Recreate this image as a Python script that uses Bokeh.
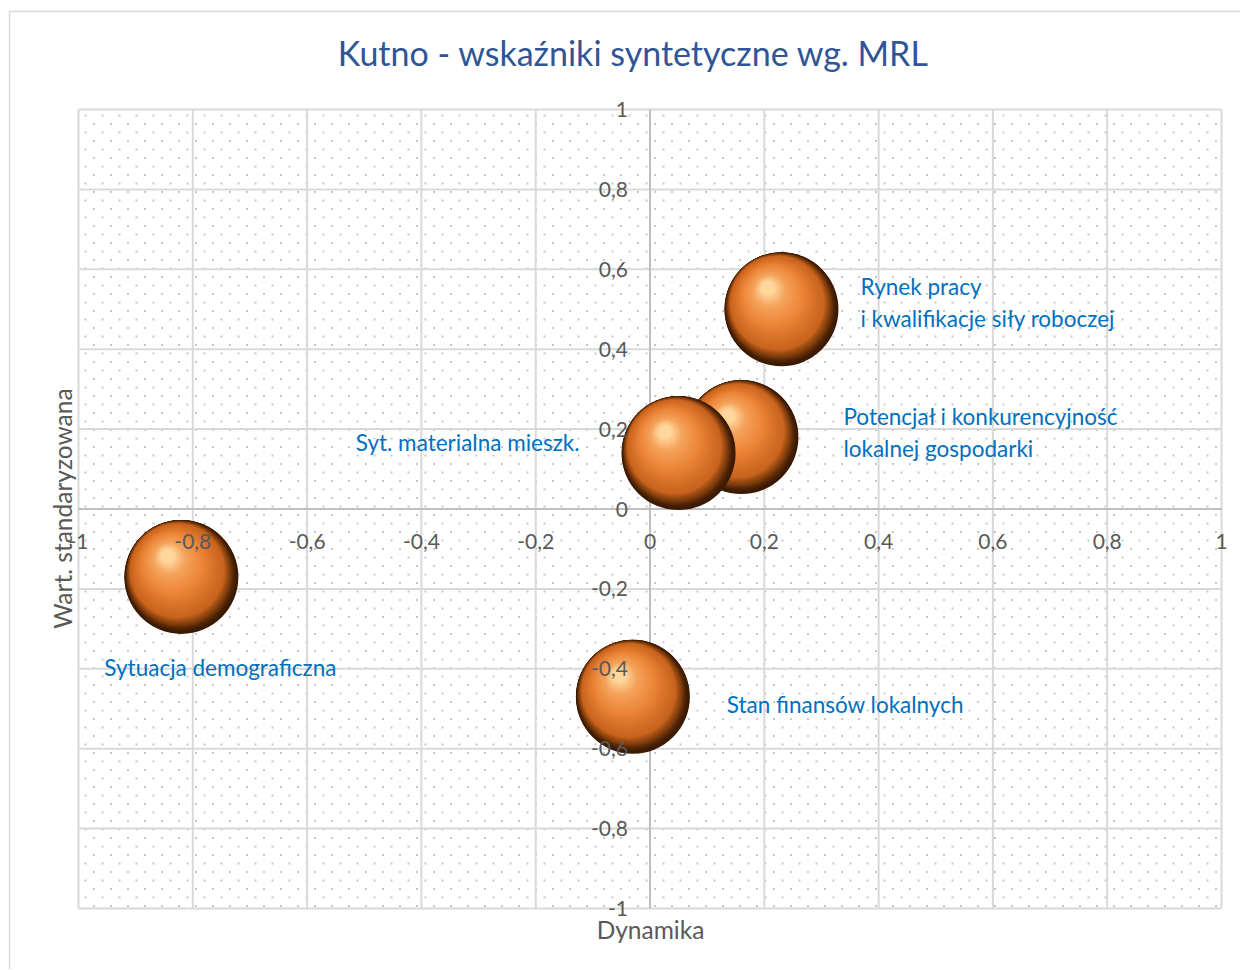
import numpy as np
from bokeh.plotting import figure
from bokeh.models import ColumnDataSource, Range1d
from bokeh.core.properties import value
from bokeh.embed import file_html
from bokeh.resources import INLINE

# ---------------- data ----------------
categories = [
    "Rynek pracy\ni kwalifikacje siły roboczej",
    "Potencjał i konkurencyjność\nlokalnej gospodarki",
    "Syt. materialna mieszk.",
    "Sytuacja demograficzna",
    "Stan finansów lokalnych",
]
dynamika = [0.23, 0.16, 0.05, -0.82, -0.03]
wartosc = [0.50, 0.18, 0.14, -0.17, -0.47]
bubble_size = [1.0, 1.0, 1.0, 1.0, 1.0]

tick_values = [-1, -0.8, -0.6, -0.4, -0.2, 0, 0.2, 0.4, 0.6, 0.8, 1]
tick_labels = ["-1", "-0,8", "-0,6", "-0,4", "-0,2", "0", "0,2", "0,4", "0,6", "0,8", "1"]

title_text = "Kutno - wskaźniki syntetyczne wg. MRL"
x_title = "Dynamika"
y_title = "Wart. standaryzowana"

# ---------------- layout (page pixels) ----------------
W, H = 1240, 969
PX_L, PX_R, PX_T, PX_B = 78, 1221, 109, 908     # plot area (-1..1 both ways)
SX = 2.0 / (PX_R - PX_L)
SY = 2.0 / (PX_B - PX_T)

def gx(px):
    return -1 + (px - PX_L) * SX

def gy(py):
    return 1 - (py - PX_T) * SY

FONT = "Lato"
GRAY = "#595959"
BLUE = "#0070C0"

p = figure(width=W, height=H,
           x_range=Range1d(gx(0), gx(W)), y_range=Range1d(gy(H), gy(0)),
           output_backend="svg", toolbar_location=None,
           x_axis_location=None, y_axis_location=None,
           min_border=0, min_border_left=0, min_border_right=0,
           min_border_top=0, min_border_bottom=0,
           background_fill_color="white", border_fill_color="white",
           outline_line_color=None)
p.grid.visible = False

# chart-area border (left + top visible in the reference)
p.line(x=[gx(9), gx(9), gx(W + 5)], y=[gy(H + 5), gy(11), gy(11)],
       line_color="#D9D9D9", line_width=1.5)

# dotted fill pattern of the plot area (texture only)
dots_x, dots_y = [], []
for r, py in enumerate(np.arange(PX_T + 6, PX_B - 1, 8.5)):
    xs = np.arange(PX_L + 7 + (r % 2) * 8.5, PX_R - 1, 17.0)
    dots_x.extend(gx(xs))
    dots_y.extend([gy(py)] * len(xs))
p.scatter(x=dots_x, y=dots_y, marker="square", size=2, fill_color="#C8C8C8",
          line_color=None)

# gridlines
grid_v = [v for v in tick_values]
p.segment(x0=grid_v, y0=[-1] * len(grid_v), x1=grid_v, y1=[1] * len(grid_v),
          line_color="#D9D9D9", line_width=2)
p.segment(x0=[-1] * len(grid_v), y0=grid_v, x1=[1] * len(grid_v), y1=grid_v,
          line_color="#D9D9D9", line_width=2)
# axis lines at zero
p.segment(x0=[0, -1], y0=[-1, 0], x1=[0, 1], y1=[1, 0],
          line_color="#BFBFBF", line_width=2)

# ---------------- bubbles (shaded spheres) ----------------
stops = [(0.00, (0x3A, 0x1A, 0x03)),
         (0.03, (0x7E, 0x3C, 0x0C)),
         (0.09, (0xC9, 0x64, 0x1E)),
         (0.40, (0xEB, 0x84, 0x36)),
         (0.75, (0xF5, 0xA3, 0x5C)),
         (1.00, (0xFF, 0xD6, 0x9C))]

def ramp(t):
    for (t0, c0), (t1, c1) in zip(stops[:-1], stops[1:]):
        if t <= t1:
            f = (t - t0) / (t1 - t0)
            return "#%02x%02x%02x" % tuple(int(round(a + (b - a) * f)) for a, b in zip(c0, c1))
    return "#%02x%02x%02x" % stops[-1][1]

R_MAX = 57
LAYERS = 64
HX, HY = -0.24, -0.37            # highlight direction (fraction of R, screen px)
HL = np.hypot(HX, HY)
RMIN = 0.12
bx, by, br, bc = [], [], [], []
smax = max(bubble_size)
for xi, yi, si in zip(dynamika, wartosc, bubble_size):
    R = R_MAX * np.sqrt(si / smax)
    for k in range(LAYERS):
        t = (k / (LAYERS - 1)) ** 2
        f = np.sqrt(t)
        ox, oy = HX * R * f, HY * R * f
        r = R - HL * R * f - (1 - HL - RMIN) * R * t
        bx.append(xi + ox * SX)
        by.append(yi - oy * SY)
        br.append(r)
        bc.append(ramp(t))
bsrc = ColumnDataSource(dict(x=bx, y=by, r=br, c=bc))
p.circle(x="x", y="y", radius="r", radius_units="screen", fill_color="c",
         line_color=None, source=bsrc)

# ---------------- tick labels (drawn above the bubbles) ----------------
p.text(x=tick_values, y=[0] * len(tick_values), text=tick_labels,
       text_font=value(FONT), text_font_size="21px", text_color=GRAY,
       text_align="center", text_baseline="middle", y_offset=32)
p.text(x=[0] * len(tick_values), y=tick_values, text=tick_labels,
       text_font=value(FONT), text_font_size="21px", text_color=GRAY,
       text_align="right", text_baseline="middle", x_offset=-22)

# ---------------- data labels ----------------
lab_dx = [79, 102, -99, -77, 94]
lab_dy = [-7, -5, -11, 91, 8]
lab_align = ["left", "left", "right", "left", "left"]
LINE_GAP = 32
cols = {"left": dict(x=[], y=[], t=[], xo=[], yo=[]),
        "right": dict(x=[], y=[], t=[], xo=[], yo=[])}
for i, cat in enumerate(categories):
    lines = cat.split("\n")
    n = len(lines)
    for j, ln in enumerate(lines):
        c = cols[lab_align[i]]
        c["x"].append(dynamika[i])
        c["y"].append(wartosc[i])
        c["t"].append(ln)
        c["xo"].append(lab_dx[i])
        c["yo"].append(lab_dy[i] + (j - (n - 1) / 2) * LINE_GAP)
for al, c in cols.items():
    p.text(x="x", y="y", text="t", x_offset="xo", y_offset="yo",
           source=ColumnDataSource(c),
           text_font=value(FONT), text_font_size="22.5px", text_color=BLUE,
           text_align=al, text_baseline="middle")

# ---------------- titles ----------------
p.text(x=[gx(633)], y=[gy(52)], text=[title_text], text_font=value(FONT),
       text_font_size="34px", text_color="#2F5597",
       text_align="center", text_baseline="middle")
p.text(x=[gx(650)], y=[gy(929)], text=[x_title], text_font=value(FONT),
       text_font_size="24.5px", text_color=GRAY,
       text_align="center", text_baseline="middle")
p.text(x=[gx(62)], y=[gy(508)], text=[y_title], text_font=value(FONT),
       text_font_size="24.5px", text_color=GRAY, angle=np.pi / 2,
       text_align="center", text_baseline="middle")

open("out.html", "w").write(file_html(p, INLINE))
